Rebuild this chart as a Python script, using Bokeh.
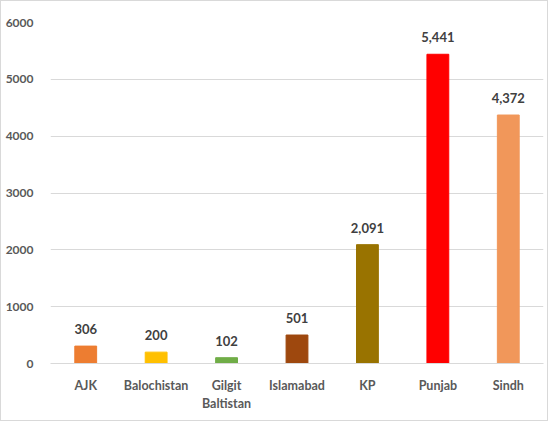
from bokeh.plotting import figure
from bokeh.models import ColumnDataSource, Range1d, FixedTicker
from bokeh.core.properties import value
from bokeh.embed import file_html
from bokeh.resources import INLINE

categories = ["AJK", "Balochistan", "Gilgit\nBaltistan", "Islamabad", "KP", "Punjab", "Sindh"]
counts = [306, 200, 102, 501, 2091, 5441, 4372]
colors = ["#ED7D31", "#FFC000", "#70AD47", "#9E480E", "#997300", "#FF0000", "#F1975A"]
y_ticks = [0, 1000, 2000, 3000, 4000, 5000, 6000]

xs = list(range(len(categories)))
labels = [f"{v:,}" for v in counts]
src = ColumnDataSource(dict(x=xs, val=counts, color=colors, label=labels))

FONT = "Lato"

p = figure(x_range=Range1d(-0.5, len(categories) - 0.5), y_range=Range1d(0, 6000),
           width=548, height=421, output_backend="svg", toolbar_location=None,
           min_border_left=49, min_border_right=6, min_border_top=21, min_border_bottom=59)
p.styles = {"border": "1px solid #d9d9d9", "box-sizing": "border-box"}
p.outline_line_color = None
p.background_fill_color = "white"
p.border_fill_color = "white"

p.vbar(x="x", top="val", width=0.31, color="color", source=src)
p.text(x="x", y="val", text="label", source=src, text_align="center", text_baseline="bottom",
       y_offset=-12, text_font=value(FONT), text_font_size="13px", text_font_style="bold",
       text_color="#404040")

p.xgrid.grid_line_color = None
p.ygrid.grid_line_color = "#d9d9d9"
p.ygrid.ticker = FixedTicker(ticks=y_ticks)

p.yaxis.ticker = FixedTicker(ticks=y_ticks)
p.yaxis.axis_line_color = None
p.yaxis.major_tick_line_color = None
p.yaxis.minor_tick_line_color = None
p.yaxis.major_label_standoff = 11
p.yaxis.major_label_text_font = FONT
p.yaxis.major_label_text_font_size = "12px"
p.yaxis.major_label_text_font_style = "bold"
p.yaxis.major_label_text_color = "#595959"

p.xaxis.ticker = FixedTicker(ticks=xs)
p.xaxis.major_label_overrides = {i: c for i, c in zip(xs, categories)}
p.xaxis.axis_line_color = "#d9d9d9"
p.xaxis.major_tick_line_color = None
p.xaxis.minor_tick_line_color = None
p.xaxis.major_label_standoff = 8
p.xaxis.major_label_text_font = FONT
p.xaxis.major_label_text_font_size = "12.5px"
p.xaxis.major_label_text_font_style = "bold"
p.xaxis.major_label_text_color = "#595959"
p.xaxis.major_label_text_line_height = 1.2

open("out.html", "w").write(file_html(p, INLINE))
